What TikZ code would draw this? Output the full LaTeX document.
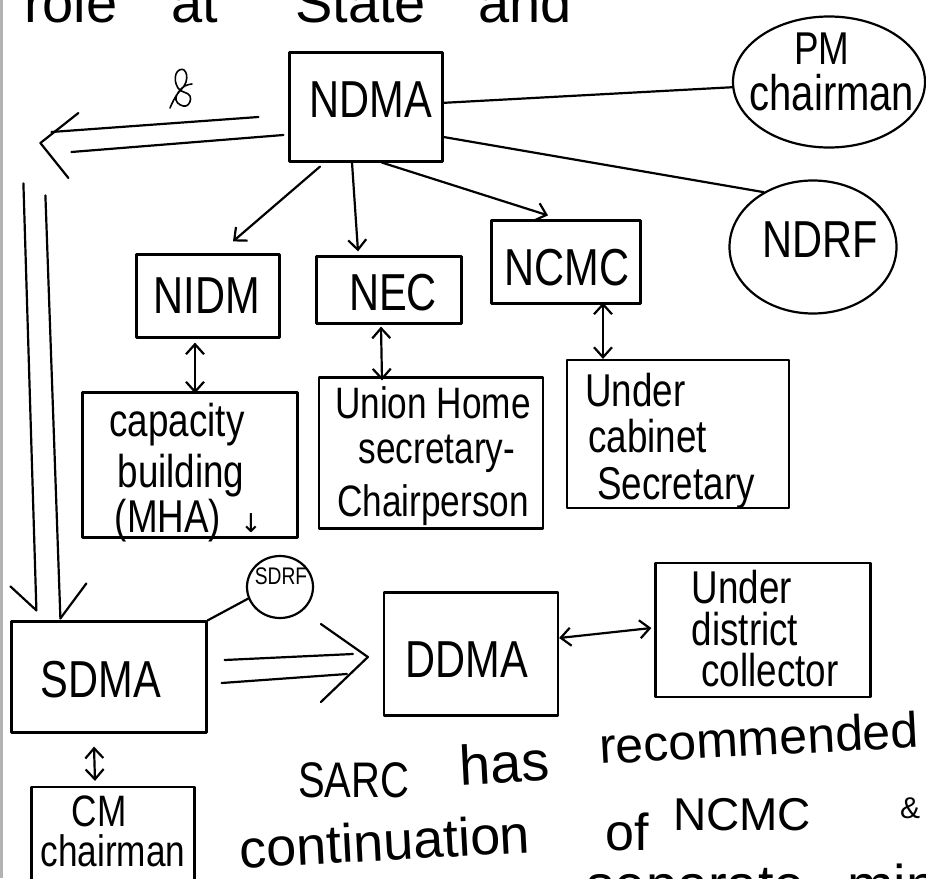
\documentclass[tikz,border=0pt]{standalone}
\usepackage{fontspec}
\setmainfont{Liberation Sans}
\newfontfamily\hand[FakeStretch=0.8]{Liberation Sans}
\newfontfamily\handw{Liberation Sans}
\newfontfamily\symf{DejaVu Sans}
\usetikzlibrary{arrows.meta,shapes.geometric,calc}
\tikzset{
  ink/.style={line width=2.2pt, line cap=round, line join=round, black},
  box/.style={draw, ink, rectangle, inner sep=0pt},
  oval/.style={draw, ink, ellipse, inner sep=0pt},
  lab/.style={inner sep=0pt, anchor=base, font=\hand\fontsize{52}{52}\selectfont},
  txt/.style={inner sep=0pt, anchor=base, font=\hand\fontsize{46}{46}\selectfont},
  txtw/.style={txt, anchor=base west},
  body/.style={inner sep=0pt, anchor=base west, font=\handw\fontsize{56}{56}\selectfont},
  tip/.style={-{Straight Barb[length=10pt,width=18pt]}},
  tips/.style={{Straight Barb[length=10pt,width=18pt]}-{Straight Barb[length=10pt,width=18pt]}},
}
\begin{document}
\begin{tikzpicture}[x=1pt,y=-1pt]
\useasboundingbox (0,0) rectangle (926,878);
\begin{scope}
\clip (0,0) rectangle (926,878);
\fill[white] (0,0) rectangle (926,878);
\draw[gray!60, line width=3pt] (1.5,0) -- (1.5,878);

% top (cut) line of text
\node[body] (w1) at (24,22) {role};
\node[body] (w2) at (171,22) {at};
\node[body] (w3) at (295,22) {State};
\node[body] (w4) at (478,22) {and};

% scribble
\draw[ink, line width=1.6pt] plot[smooth, tension=0.8] coordinates {(170,108) (176,96) (186,82) (184,70) (176,74) (178,88) (190,96) (186,106) (176,100) (182,88) (192,84)};

% national level
\node[box, minimum width=153pt, minimum height=109pt] (ndma) at (366,107) {};
\node[lab] (ndmat) at (371,117) {NDMA};

\node[oval, minimum width=192pt, minimum height=131pt] (pm) at (829,82) {};
\node[lab, font=\hand\fontsize{46}{46}\selectfont] (pmt1) at (822,64) {PM};
\node[lab, font=\hand\fontsize{50}{50}\selectfont] (pmt2) at (832,110) {chairman};

\node[oval, minimum width=167pt, minimum height=133pt] (ndrf) at (813,247) {};
\node[lab] (ndrft) at (820,257) {NDRF};

\node[box, minimum width=143pt, minimum height=83pt] (nidm) at (208,296) {};
\node[lab] (nidmt) at (207,313) {NIDM};

\node[box, minimum width=145pt, minimum height=67pt] (nec) at (389,290) {};
\node[lab] (nect) at (393,310) {NEC};

\node[box, minimum width=149pt, minimum height=83pt] (ncmc) at (566,262) {};
\node[lab] (ncmct) at (567,285) {NCMC};

% second row
\node[box, minimum width=215pt, minimum height=145pt] (cap) at (190,465) {};
\node[txt] (capt1) at (177,436) {capacity};
\node[txt] (capt2) at (181,487) {building};
\node[txt] (capt3) at (168,532) {(MHA)};
\node[inner sep=0pt, anchor=base, font=\symf\fontsize{26}{26}\selectfont] (capt4) at (251,532) {↓};

\node[box, minimum width=224pt, minimum height=151pt] (union) at (431,453) {};
\node[txt, font=\hand\fontsize{44}{44}\selectfont] (unt1) at (433,418) {Union Home};
\node[txt, font=\hand\fontsize{44}{44}\selectfont] (unt2) at (437,463) {secretary-};
\node[txt, font=\hand\fontsize{44}{44}\selectfont] (unt3) at (433,516) {Chairperson};

\node[box, minimum width=222pt, minimum height=148pt] (undercab) at (678,434) {};
\node[txtw] (uct1) at (585,406) {Under};
\node[txtw] (uct2) at (588,452) {cabinet};
\node[txtw] (uct3) at (597,499) {Secretary};

% state / district level
\node[box, minimum width=195pt, minimum height=111pt] (sdma) at (109,677) {};
\node[lab] (sdmat) at (101,697) {SDMA};

\node[oval, minimum width=66pt, minimum height=62pt] (sdrf) at (280,587) {};
\node[lab, font=\hand\fontsize{24}{24}\selectfont] (sdrft) at (281,584) {SDRF};

\node[box, minimum width=174pt, minimum height=123pt] (ddma) at (471,654) {};
\node[lab] (ddmat) at (467,677) {DDMA};

\node[box, minimum width=215pt, minimum height=134pt] (underdist) at (763,630) {};
\node[txt] (udt1) at (742,603) {Under};
\node[txt] (udt2) at (745,645) {district};
\node[txt] (udt3) at (770,686) {collector};

\node[box, minimum width=163pt, minimum height=126pt] (cm) at (113,850) {};
\node[lab, font=\hand\fontsize{44}{44}\selectfont] (cmt1) at (99,826) {CM};
\node[lab, font=\hand\fontsize{44}{44}\selectfont] (cmt2) at (113,866) {chairman};

% connectors, national level
\draw[ink] (ndma) -- (pm);
\draw[ink] ($(ndma.east)+(0,30)$) -- (ndrf.132);
\draw[ink,tip] ($(ndma.south)+(16,0)$) -- ($(ncmc.north)+(-18,-4)$);
\draw[ink,tip] ($(ndma.south)+(-46,4)$) -- ($(nidm.north)+(25,-12)$);
\draw[ink,tip] ($(ndma.south)+(-14,0)$) -- ($(nec.north)+(-31,-4)$);

\draw[ink,tips] ($(nidm.south)+(-13,4)$) -- ($(cap.north)+(5,2)$);
\draw[ink,tips] ($(nec.south)+(-8,2)$) -- ($(union.north)+(-49,4)$);
\draw[ink,tips] ($(ncmc.south)+(37,-2)$) -- ($(undercab.north)+(-75,0)$);

% double arrow to the left
\draw[ink] ($(ndma.west)+(-30,10)$) -- ($(ndma.west)+(-237,25)$);
\draw[ink] ($(ndma.west)+(-5,28)$) -- ($(ndma.west)+(-217,45)$);
\draw[ink] ($(ndma.west)+(-210,6)$) -- ($(ndma.west)+(-248,36)$) -- ($(ndma.west)+(-220,71)$);

% double arrow down to SDMA
\draw[ink] ($(sdma.north west)+(13,-437)$) -- ($(sdma.north west)+(26,-10)$);
\draw[ink] ($(sdma.north west)+(35,-425)$) -- ($(sdma.north west)+(50,-2)$);
\draw[ink] ($(sdma.north west)+(0,-34)$) -- ($(sdma.north west)+(26,-10)$);
\draw[ink] ($(sdma.north west)+(76,-37)$) -- ($(sdma.north west)+(50,-2)$);

% state level connectors
\draw[ink] (sdma.north east) -- (sdrf.200);
\draw[ink] ($(sdma.east)+(17,-17)$) -- ($(ddma.west)+(-30,0)$);
\draw[ink] ($(sdma.east)+(14,6)$) -- ($(ddma.west)+(-36,20)$);
\draw[ink] ($(ddma.west)+(-62,-30)$) -- ($(ddma.west)+(-15,3)$) -- ($(ddma.west)+(-62,48)$);
\draw[ink,tips] ($(ddma.east)+(0,-16)$) -- ($(underdist.west)+(-3,-2)$);
\draw[ink,tips] ($(sdma.south)+(-15,13)$) -- ($(cm.north)+(-18,-5)$);

% note text
\node[body, font=\hand\fontsize{50}{50}\selectfont] (n1) at (298,797) {SARC};
\node[body, rotate=3] (n2) at (460,785) {has};
\node[body, rotate=3, font=\handw\fontsize{50}{50}\selectfont] (n3) at (600,764) {recommended};
\node[body, rotate=3, font=\handw\fontsize{54}{54}\selectfont] (n4) at (240,868) {continuation};
\node[body, font=\handw\fontsize{52}{52}\selectfont] (n5) at (605,850) {of};
\node[body, font=\handw\fontsize{46}{46}\selectfont] (n6) at (673,830) {NCMC};
\node[body, font=\handw\fontsize{30}{30}\selectfont] (n7) at (900,818) {\&};
\node[body, anchor=base east] (n8) at (805,904) {separate};
\node[body] (n9) at (847,904) {min};
\end{scope}
\end{tikzpicture}
\end{document}
